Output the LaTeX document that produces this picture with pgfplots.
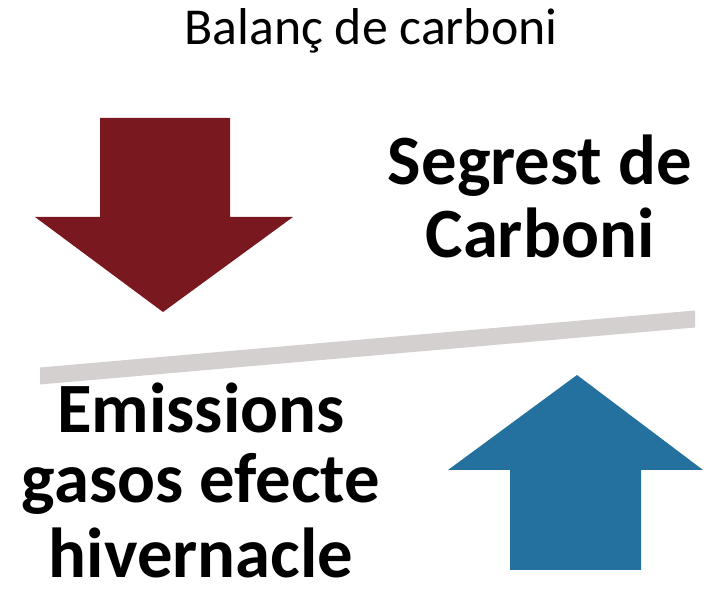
\documentclass[border=0pt]{standalone}
\usepackage{fontspec}
\setmainfont{Carlito}
\usepackage{pgfplots}
\pgfplotsset{compat=1.18}
\definecolor{arrowred}{HTML}{7A1820}
\definecolor{arrowblue}{HTML}{24709E}
\definecolor{bargray}{HTML}{D5D0D0}
\begin{document}
\begin{tikzpicture}
\begin{axis}[
  scale only axis, width=713bp, height=596bp,
  xmin=0, xmax=713, ymin=0, ymax=596,
  hide axis, clip=false,
]
\addplot[draw=none, forget plot] coordinates {(0,0) (713,596)};
% red arrow (down)
\addplot[fill=arrowred, draw=none] coordinates {
  (100,478) (230,478) (230,379) (293,379) (163,284) (35,379) (100,379)} -- cycle;
% blue arrow (up)
\addplot[fill=arrowblue, draw=none] coordinates {
  (510,26) (641,26) (641,126) (703,126) (577,221) (448,126) (510,126)} -- cycle;
% balance bar
\addplot[fill=bargray, draw=none] coordinates {
  (40,228.5) (695,285.5) (695,268.5) (40,211.5)} -- cycle;
% texts
\node[anchor=base, inner sep=0pt] at (axis cs:371,551) {\fontsize{52}{56}\selectfont Balanç de carboni};
\node[anchor=base, inner sep=0pt] at (axis cs:540,411) {\fontsize{71}{76}\selectfont\bfseries Segrest de};
\node[anchor=base, inner sep=0pt] at (axis cs:540,338) {\fontsize{71}{76}\selectfont\bfseries Carboni};
\node[anchor=base, inner sep=0pt] at (axis cs:201,163) {\fontsize{71}{76}\selectfont\bfseries Emissions};
\node[anchor=base, inner sep=0pt] at (axis cs:201,93) {\fontsize{71}{76}\selectfont\bfseries gasos efecte};
\node[anchor=base, inner sep=0pt] at (axis cs:201,19) {\fontsize{71}{76}\selectfont\bfseries hivernacle};
\end{axis}
\end{tikzpicture}
\end{document}
